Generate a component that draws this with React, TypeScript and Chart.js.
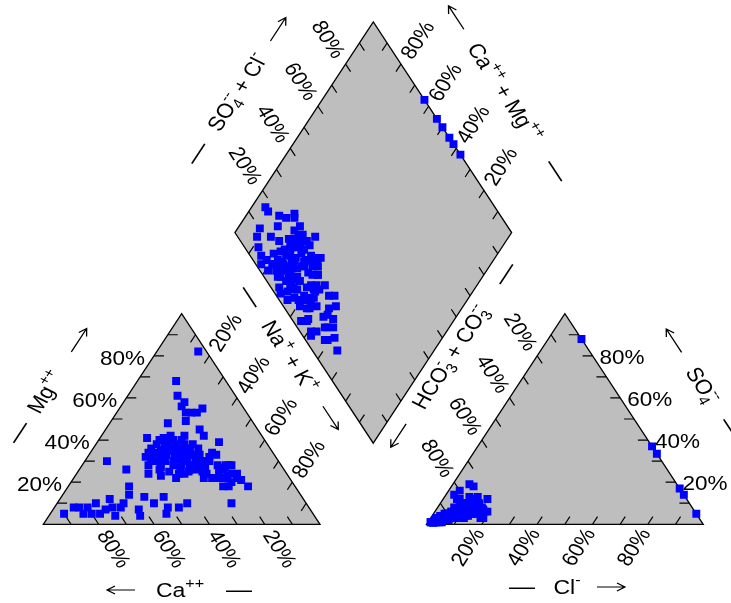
import { useEffect, useRef } from 'react';
import { Chart, registerables } from 'chart.js';
Chart.register(...registerables);

const W = 731;
const H = 603;
const GAP = 0.385;
const H3 = Math.sqrt(3) / 2;
const SY = 0.88;
const FONT = "'Liberation Sans', Arial, Helvetica, sans-serif";
const FILL = '#BEBEBE';
const POINT = '#0000FF';

// ---- sample composition (percent of meq) ----
const caPct = [3, 18, 21, 20, 22, 15, 22, 20, 18, 24, 31, 21, 21, 42, 40, 36, 33, 33, 28, 31, 37, 41, 46, 47, 50, 46, 42, 41, 37, 37, 33, 29, 31, 38, 40, 36, 34, 28, 30, 29, 28, 22, 17, 21, 19, 18, 18, 22, 27, 26, 24, 22, 17, 27, 35, 39, 33, 30, 38, 43, 45, 35, 32, 26, 25, 34, 39, 44, 30, 27, 62, 57, 90, 85, 83, 83, 80, 77, 74, 70, 71, 72, 68, 62, 62, 63, 57, 50, 51, 53, 47, 43,
  36, 34, 38, 35, 32, 37, 41, 39, 33, 36, 30, 32, 28, 27, 24, 23, 22, 20, 21, 19, 24, 25, 29, 43, 44, 48, 45, 39, 35, 31, 26, 42, 36, 33, 40, 29, 37, 31, 45, 34, 20, 23, 18, 80, 76, 66, 55, 60];
const mgPct = [82, 68, 61, 58, 56, 55, 53, 53, 53, 49, 48, 45, 42, 41, 38, 41, 42, 38, 42, 36, 35, 33, 30, 32, 24, 23, 25, 22, 27, 24, 30, 33, 28, 30, 32, 33, 33, 30, 25, 24, 22, 34, 39, 33, 28, 28, 24, 23, 22, 18, 18, 20, 18, 10, 36, 35, 34, 38, 40, 36, 34, 30, 32, 36, 30, 26, 28, 27, 40, 38, 30, 26, 5, 8, 8, 5, 5, 5, 7, 12, 8, 4, 8, 14, 7, 4, 13, 13, 8, 5, 8, 10,
  38, 36, 36, 40, 36, 31, 30, 33, 28, 28, 30, 26, 27, 33, 32, 28, 26, 24, 27, 22, 25, 22, 28, 30, 33, 28, 26, 24, 25, 22, 30, 34, 35, 40, 35, 36, 38, 33, 30, 30, 28, 22, 21, 8, 10, 10, 10, 18];
const clPct = [10, 6, 3, 12, 5, 14, 8, 4, 9, 6, 6, 5, 12, 8, 7, 11, 14, 7, 4, 13, 9, 5, 8, 2, 15, 6, 10, 4, 12, 8, 19, 11, 6, 10, 17, 9, 4, 10, 13, 4, 63, 7, 12, 66.5, 10, 14, 5, 83, 3, 8, 86, 9, 7, 95, 2, 9, 7, 10, 4, 6, 9, 5, 18, 14, 6, 11, 3, 8, 6, 8, 5, 1, 3, 5, 3, 4, 2, 6, 4, 6, 3, 14, 5, 9, 1, 9, 16, 19, 4, 12, 2, 9,
  3, 5, 14, 4, 12, 6, 18, 10, 5, 13, 12, 8, 2, 15, 6, 13, 9, 12, 12, 6, 16, 5, 11, 6, 11, 4, 9, 13, 7, 4, 9, 17, 14, 8, 5, 11, 11, 6, 16, 17, 2, 7, 8, 2, 7, 4, 2, 3];
const so4Pct = [12, 6, 2, 13, 4, 10, 7, 2, 10, 5, 12, 3, 88, 18, 7, 9, 8, 5, 3, 9, 7, 4, 5, 1, 6, 4, 7, 2, 8, 5, 6, 7, 3, 9, 7, 5, 3, 5, 7, 1, 37, 4, 5, 33.5, 4, 5, 2, 17, 1, 3, 14, 4, 2, 5, 1, 10, 4, 6, 3, 6, 13, 3, 6, 8, 3, 4, 2, 5, 4, 4, 5, 1, 14, 12, 4, 16, 2, 19, 5, 8, 3, 9, 5, 8, 1, 3, 12, 3, 2, 5, 1, 3,
  2, 4, 6, 3, 6, 3, 3, 5, 2, 4, 8, 3, 1, 5, 2, 6, 3, 3, 4, 2, 5, 1, 4, 3, 6, 2, 4, 9, 3, 2, 4, 5, 7, 6, 5, 10, 9, 3, 8, 6, 1, 3, 3, 3, 10, 2, 1, 4];

const tickPct = [10, 20, 30, 40, 50, 60, 70, 80, 90];
const labelPct = [20, 40, 60, 80];

// ---- ternary -> plane ----
function cationXY(ca: number, mg: number) {
  const nak = 100 - ca - mg;
  return { x: (nak + 0.5 * mg) / 100, y: (H3 * mg) / 100 };
}
function anionXY(cl: number, so4: number) {
  return { x: 1 + GAP + (cl + 0.5 * so4) / 100, y: (H3 * so4) / 100 };
}
function diamondXY(ca: number, mg: number, cl: number, so4: number) {
  const cm = (ca + mg) / 100;
  const a = (cl + so4) / 100;
  return { x: 1 + GAP / 2 - 0.5 * cm + 0.5 * a, y: H3 * GAP + H3 * cm + H3 * a };
}

const Bv: [number, number] = [1 + GAP / 2, H3 * GAP];
const Rv: [number, number] = [1.5 + GAP / 2, H3 * (1 + GAP)];
const Tv: [number, number] = [1 + GAP / 2, H3 * (2 + GAP)];
const Lv: [number, number] = [0.5 + GAP / 2, H3 * (1 + GAP)];

const polygons: [number, number][][] = [
  [[0, 0], [1, 0], [0.5, H3]],
  [[1 + GAP, 0], [2 + GAP, 0], [1.5 + GAP, H3]],
  [Bv, Rv, Tv, Lv],
];

type Lab = { mode: 'h' | 'r'; align?: 'left' | 'right'; gap?: number; dy?: number; out?: [number, number]; ang?: number; d?: number };
type AxisSpec = { at: (p: number) => [number, number]; tick: [number, number]; label?: Lab };

const axes: AxisSpec[] = [
  { at: (p) => [0.5 * p, H3 * p], tick: [1, 0], label: { mode: 'h', align: 'right', gap: 9, dy: 2 } },
  { at: (p) => [0.5 + 0.5 * p, H3 * (1 - p)], tick: [-0.5, -H3], label: { mode: 'r', out: [0.5, H3], ang: -60, d: 28 } },
  { at: (p) => [1 - p, 0], tick: [-0.5, H3], label: { mode: 'r', out: [0.5, -H3], ang: 60, d: 29 } },
  { at: (p) => [2 + GAP - 0.5 * p, H3 * p], tick: [-1, 0], label: { mode: 'h', align: 'left', gap: 7, dy: 1 } },
  { at: (p) => [1 + GAP + 0.5 * (1 - p), H3 * (1 - p)], tick: [0.5, -H3], label: { mode: 'r', out: [-0.5, H3], ang: 60, d: 29 } },
  { at: (p) => [1 + GAP + p, 0], tick: [0.5, H3], label: { mode: 'r', out: [-0.5, -H3], ang: -60, d: 27 } },
  { at: (p) => [Lv[0] + 0.5 * p, Lv[1] + H3 * p], tick: [0.5, -H3], label: { mode: 'r', out: [-0.5, H3], ang: 60, d: 30 } },
  { at: (p) => [Bv[0] + 0.5 * p, Bv[1] + H3 * p], tick: [-0.5, H3] },
  { at: (p) => [Rv[0] - 0.5 * p, Rv[1] + H3 * p], tick: [-0.5, -H3], label: { mode: 'r', out: [0.5, H3], ang: -60, d: 29 } },
  { at: (p) => [Bv[0] - 0.5 * p, Bv[1] + H3 * p], tick: [0.5, H3] },
];
const TL = 0.036;

type Run = { t?: string; sub?: string; sup?: string };
type Part = { kind: 'dash' | 'right' | 'left'; off: number };
type Title = { runs: Run[]; c: [number, number]; ang: number; parts: Part[] };

const DASH = '\u2014';

const titles: Title[] = [
  { runs: [{ t: 'Mg', sup: '++' }], c: [45, 392], ang: -60, parts: [{ kind: 'dash', off: -48 }, { kind: 'right', off: 62 }] },
  { runs: [{ t: 'Na', sup: '+' }, { t: ' + K', sup: '+' }], c: [290, 356], ang: 60, parts: [{ kind: 'dash', off: -71 }, { kind: 'right', off: 74 }] },
  { runs: [{ t: 'Ca', sup: '++' }], c: [180, 590], ang: 0, parts: [{ kind: 'left', off: -59 }, { kind: 'dash', off: 59 }] },
  { runs: [{ t: 'HCO', sub: '3', sup: '-' }, { t: ' + CO', sub: '3', sup: '--' }], c: [450, 357], ang: -60, parts: [{ kind: 'left', off: -94 }, { kind: 'dash', off: 100 }] },
  { runs: [{ t: 'SO', sub: '4', sup: '--' }], c: [703, 385], ang: 60, parts: [{ kind: 'left', off: -53 }, { kind: 'dash', off: 52 }] },
  { runs: [{ t: 'Cl', sup: '-' }], c: [567, 587], ang: 0, parts: [{ kind: 'dash', off: -45 }, { kind: 'right', off: 44 }] },
  { runs: [{ t: 'SO', sub: '4', sup: '--' }, { t: ' + Cl', sup: '-' }], c: [237, 92], ang: -60, parts: [{ kind: 'dash', off: -73 }, { kind: 'right', off: 75 }] },
  { runs: [{ t: 'Ca', sup: '++' }, { t: ' + Mg', sup: '++' }], c: [505, 92], ang: 60, parts: [{ kind: 'left', off: -89 }, { kind: 'dash', off: 94 }] },
];

const TICK_FS = 22.5;
const TITLE_FS = 23;
const DASH_FS = 26;
const ARROW_LEN = 28;

function runsWidth(ctx: CanvasRenderingContext2D, runs: Run[], fs: number) {
  let w = 0;
  for (const r of runs) {
    if (r.t) {
      ctx.font = `${fs}px ${FONT}`;
      w += ctx.measureText(r.t).width;
    }
    if (r.sub || r.sup) {
      ctx.font = `${fs * 0.7}px ${FONT}`;
      w += Math.max(r.sub ? ctx.measureText(r.sub).width : 0, r.sup ? ctx.measureText(r.sup).width : 0);
    }
  }
  return w;
}

function drawRuns(ctx: CanvasRenderingContext2D, runs: Run[], fs: number, align: 'left' | 'right' | 'center') {
  const w = runsWidth(ctx, runs, fs);
  let xx = align === 'center' ? -w / 2 : align === 'right' ? -w : 0;
  const base = fs * 0.36;
  ctx.textAlign = 'left';
  ctx.textBaseline = 'alphabetic';
  for (const r of runs) {
    if (r.t) {
      ctx.font = `${fs}px ${FONT}`;
      ctx.fillText(r.t, xx, base);
      xx += ctx.measureText(r.t).width;
    }
    if (r.sub || r.sup) {
      ctx.font = `${fs * 0.7}px ${FONT}`;
      let ww = 0;
      if (r.sup) {
        ctx.fillText(r.sup, xx, base - fs * 0.45);
        ww = Math.max(ww, ctx.measureText(r.sup).width);
      }
      if (r.sub) {
        ctx.fillText(r.sub, xx, base + fs * 0.22);
        ww = Math.max(ww, ctx.measureText(r.sub).width);
      }
      xx += ww;
    }
  }
}

const piperPlugin = {
  id: 'piperFrame',
  beforeDatasetsDraw(chart: any) {
    const ctx: CanvasRenderingContext2D = chart.ctx;
    const xs = chart.scales.x;
    const ys = chart.scales.y;
    const P = (u: number, v: number): [number, number] => [xs.getPixelForValue(u), ys.getPixelForValue(v)];
    const kx = xs.getPixelForValue(1) - xs.getPixelForValue(0);
    const ky = ys.getPixelForValue(0) - ys.getPixelForValue(1);
    const sdir = (d: [number, number]): [number, number] => {
      const a = d[0] * kx;
      const b = -d[1] * ky;
      const n = Math.hypot(a, b);
      return [a / n, b / n];
    };
    ctx.save();
    for (const poly of polygons) {
      ctx.beginPath();
      poly.forEach((p, i) => {
        const [px, py] = P(p[0], p[1]);
        if (i) ctx.lineTo(px, py);
        else ctx.moveTo(px, py);
      });
      ctx.closePath();
      ctx.fillStyle = FILL;
      ctx.fill();
      ctx.strokeStyle = '#000';
      ctx.lineWidth = 1.3;
      ctx.stroke();
    }
    ctx.beginPath();
    for (const ax of axes) {
      for (const t of tickPct) {
        const p = ax.at(t / 100);
        const [x0, y0] = P(p[0], p[1]);
        const [x1, y1] = P(p[0] + ax.tick[0] * TL, p[1] + ax.tick[1] * TL);
        ctx.moveTo(x0, y0);
        ctx.lineTo(x1, y1);
      }
    }
    ctx.strokeStyle = '#000';
    ctx.lineWidth = 1.2;
    ctx.stroke();

    ctx.fillStyle = '#000';
    for (const ax of axes) {
      const lab = ax.label;
      if (!lab) continue;
      for (const t of labelPct) {
        const p = ax.at(t / 100);
        const [px, py] = P(p[0], p[1]);
        const txt = [{ t: `${t}%` }];
        ctx.save();
        if (lab.mode === 'h') {
          const gx = lab.align === 'right' ? px - (lab.gap || 0) : px + (lab.gap || 0);
          ctx.translate(gx, py + (lab.dy || 0));
          ctx.scale(1, SY);
          drawRuns(ctx, txt, TICK_FS, lab.align || 'left');
        } else {
          const od = sdir(lab.out!);
          ctx.translate(px + od[0] * lab.d!, py + od[1] * lab.d!);
          ctx.scale(1, SY);
          ctx.rotate(((lab.ang || 0) * Math.PI) / 180);
          drawRuns(ctx, txt, TICK_FS, 'center');
        }
        ctx.restore();
      }
    }

    for (const ti of titles) {
      const a = (ti.ang * Math.PI) / 180;
      const k = Math.hypot(Math.cos(a), SY * Math.sin(a));
      ctx.save();
      ctx.translate(ti.c[0], ti.c[1]);
      ctx.scale(1, SY);
      ctx.rotate(a);
      drawRuns(ctx, ti.runs, TITLE_FS, 'center');
      for (const pt of ti.parts) {
        const cx = pt.off / k;
        if (pt.kind === 'dash') {
          ctx.font = `${DASH_FS}px ${FONT}`;
          ctx.textAlign = 'center';
          ctx.textBaseline = 'middle';
          ctx.fillText(DASH, cx, 1);
        } else {
          const half = ARROW_LEN / 2 / k;
          const dir = pt.kind === 'right' ? 1 : -1;
          const tip = cx + dir * half;
          ctx.beginPath();
          ctx.moveTo(cx - dir * half, 0);
          ctx.lineTo(tip, 0);
          ctx.moveTo(tip - dir * 8, -4.5);
          ctx.lineTo(tip, 0);
          ctx.lineTo(tip - dir * 8, 4.5);
          ctx.strokeStyle = '#000';
          ctx.lineWidth = 1.3;
          ctx.stroke();
        }
      }
      ctx.restore();
    }
    ctx.restore();
  },
};

const X_PX = 281;
const X0 = 38.3;
const Y_PX = 247.8;
const Y0 = 528.5;

export default function App() {
  const ref = useRef<HTMLCanvasElement>(null);
  useEffect(() => {
    document.body.style.margin = '0';
    const cation = caPct.map((ca, i) => cationXY(ca, mgPct[i]));
    const anion = clPct.map((cl, i) => anionXY(cl, so4Pct[i]));
    const diamond = caPct.map((ca, i) => diamondXY(ca, mgPct[i], clPct[i], so4Pct[i]));
    const pt = {
      pointStyle: 'rect' as const,
      pointRadius: 5.6,
      pointHoverRadius: 5.6,
      backgroundColor: POINT,
      borderColor: POINT,
      borderWidth: 0,
      showLine: false,
    };
    const chart = new Chart(ref.current!, {
      type: 'scatter',
      data: {
        datasets: [
          { label: 'Cations', data: cation, ...pt },
          { label: 'Anions', data: anion, ...pt },
          { label: 'Diamond', data: diamond, ...pt },
        ],
      },
      options: {
        responsive: false,
        animation: false,
        events: [],
        layout: { padding: 0 },
        plugins: { legend: { display: false }, tooltip: { enabled: false } },
        scales: {
          x: { type: 'linear', display: false, min: -X0 / X_PX, max: (W - X0) / X_PX },
          y: { type: 'linear', display: false, min: -(H - Y0) / Y_PX, max: Y0 / Y_PX },
        },
      },
      plugins: [piperPlugin],
    });
    return () => chart.destroy();
  }, []);
  return (
    <div style={{ width: W, height: H }}>
      <canvas ref={ref} width={W} height={H} style={{ display: 'block', width: W, height: H }} />
    </div>
  );
}
